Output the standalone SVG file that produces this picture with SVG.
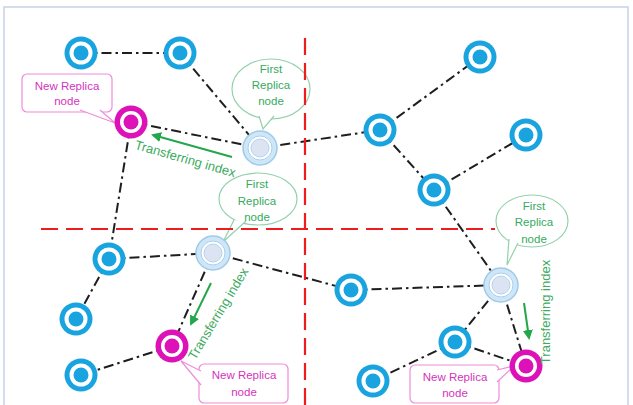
<svg xmlns="http://www.w3.org/2000/svg" width="633" height="405" viewBox="0 0 633 405">
  <style>
    .frame{fill:#fff;stroke:#C9D0E8;stroke-width:1.5}
    .link{stroke:#1E1E1E;stroke-width:2;stroke-dasharray:10 4 2.5 4;fill:none}
    .red{stroke:#EE1C1C;stroke-width:2.2;stroke-dasharray:17 8;fill:none}
    .bo{fill:#19A4E0}
    .mo{fill:#DC12B8}
    .wh{fill:#fff}
    .fo{fill:#CFE6F7;stroke:#9FCBEA;stroke-width:1.5}
    .fm{fill:#fff;stroke:#A8D0EE;stroke-width:1}
    .fi{fill:#DCE4F3;stroke:#B3D4EF;stroke-width:1}
    .gcall{fill:#fff;stroke:#93D1AC;stroke-width:1.2}
    .mcall{fill:#fff;stroke:#F08BD9;stroke-width:1.2}
    .gt{font-family:"Liberation Sans",Arial,sans-serif;font-size:11.5px;fill:#35AA5E;text-anchor:middle}
    .mt{font-family:"Liberation Sans",Arial,sans-serif;font-size:11.5px;fill:#D433BC;text-anchor:middle}
    .tt{font-family:"Liberation Sans",Arial,sans-serif;font-size:13px;fill:#3DAA5E;text-anchor:middle}
    .arr{stroke:#22A84A;stroke-width:2;fill:none}
  </style>
  <defs>
    <marker id="ah" viewBox="0 0 10 10" refX="8" refY="5" markerWidth="5" markerHeight="5" orient="auto">
      <path d="M0,0 L10,5 L0,10 z" fill="#22A84A"/>
    </marker>
  </defs>

  <rect class="frame" x="4" y="7" width="624" height="405"/>

  <g id="connectors">
    <line class="link" x1="81" y1="53" x2="180" y2="53"/>
    <line class="link" x1="180" y1="53" x2="260" y2="148"/>
    <line class="link" x1="131" y1="122" x2="260" y2="148"/>
    <line class="link" x1="131" y1="122" x2="109" y2="259"/>
    <line class="link" x1="260" y1="148" x2="380" y2="130"/>
    <line class="link" x1="380" y1="130" x2="480" y2="57"/>
    <line class="link" x1="380" y1="130" x2="434" y2="190"/>
    <line class="link" x1="434" y1="190" x2="526" y2="135"/>
    <line class="link" x1="434" y1="190" x2="501" y2="285"/>
    <line class="link" x1="109" y1="259" x2="213" y2="253"/>
    <line class="link" x1="109" y1="259" x2="76" y2="319"/>
    <line class="link" x1="213" y1="253" x2="172" y2="346"/>
    <line class="link" x1="213" y1="253" x2="351" y2="290"/>
    <line class="link" x1="172" y1="346" x2="81" y2="375"/>
    <line class="link" x1="351" y1="290" x2="501" y2="285"/>
    <line class="link" x1="501" y1="285" x2="455" y2="342"/>
    <line class="link" x1="501" y1="285" x2="526" y2="366"/>
    <line class="link" x1="455" y1="342" x2="373" y2="381"/>
    <line class="link" x1="455" y1="342" x2="526" y2="366"/>
  </g>

  <g id="callout-first-1">
    <ellipse class="gcall" cx="271" cy="89" rx="39" ry="30"/>
    <path class="gcall" d="M259,116 L263,129 L274,116"/>
    <text class="gt" x="271" y="73">First</text>
    <text class="gt" x="271" y="89">Replica</text>
    <text class="gt" x="271" y="105">node</text>
  </g>
  <g id="callout-first-2">
    <ellipse class="gcall" cx="258" cy="199" rx="39" ry="26"/>
    <path class="gcall" d="M234,220 L223,242 L246,221"/>
    <text class="gt" x="257" y="188">First</text>
    <text class="gt" x="257" y="205">Replica</text>
    <text class="gt" x="257" y="221">node</text>
  </g>
  <g id="callout-first-3">
    <ellipse class="gcall" cx="532" cy="221" rx="36" ry="26"/>
    <path class="gcall" d="M509,239 L507,265 L518,243"/>
    <text class="gt" x="534" y="210">First</text>
    <text class="gt" x="534" y="226">Replica</text>
    <text class="gt" x="534" y="243">node</text>
  </g>

  <g id="callout-new-1">
    <rect class="mcall" x="22" y="74" width="90" height="38" rx="5"/>
    <path class="mcall" d="M80,110 L115,123 L100,110"/>
    <text class="mt" x="67" y="90">New Replica</text>
    <text class="mt" x="67" y="105">node</text>
  </g>
  <g id="callout-new-2">
    <rect class="mcall" x="199" y="364" width="89" height="39" rx="5"/>
    <path class="mcall" d="M201,371 L181,361 L201,385"/>
    <text class="mt" x="244" y="379">New Replica</text>
    <text class="mt" x="244" y="396">node</text>
  </g>
  <g id="callout-new-3">
    <rect class="mcall" x="410" y="365" width="89" height="38" rx="5"/>
    <path class="mcall" d="M497,370 L514,366 L497,382"/>
    <text class="mt" x="455" y="381">New Replica</text>
    <text class="mt" x="455" y="397">node</text>
  </g>

  <g id="partitions">
    <line class="red" x1="305" y1="38" x2="305" y2="405"/>
    <line class="red" x1="41" y1="229" x2="495" y2="229"/>
  </g>

  <g id="node-A"><circle class="bo" cx="81" cy="53" r="16.5"/><circle class="wh" cx="81" cy="53" r="11.5"/><circle class="bo" cx="81" cy="53" r="7.5"/></g>
  <g id="node-B"><circle class="bo" cx="180" cy="53" r="16.5"/><circle class="wh" cx="180" cy="53" r="11.5"/><circle class="bo" cx="180" cy="53" r="7.5"/></g>
  <g id="node-C"><circle class="mo" cx="131" cy="122" r="16.5"/><circle class="wh" cx="131" cy="122" r="11"/><circle class="mo" cx="131" cy="122" r="7.5"/></g>
  <g id="node-D"><circle class="fo" cx="260" cy="148" r="17"/><circle class="fm" cx="260" cy="148" r="12"/><circle class="fi" cx="260" cy="148" r="9"/></g>
  <g id="node-E"><circle class="bo" cx="480" cy="57" r="16.5"/><circle class="wh" cx="480" cy="57" r="11.5"/><circle class="bo" cx="480" cy="57" r="7.5"/></g>
  <g id="node-F"><circle class="bo" cx="380" cy="130" r="16.5"/><circle class="wh" cx="380" cy="130" r="11.5"/><circle class="bo" cx="380" cy="130" r="7.5"/></g>
  <g id="node-G"><circle class="bo" cx="526" cy="135" r="16.5"/><circle class="wh" cx="526" cy="135" r="11.5"/><circle class="bo" cx="526" cy="135" r="7.5"/></g>
  <g id="node-H"><circle class="bo" cx="434" cy="190" r="16.5"/><circle class="wh" cx="434" cy="190" r="11.5"/><circle class="bo" cx="434" cy="190" r="7.5"/></g>
  <g id="node-I"><circle class="bo" cx="109" cy="259" r="16.5"/><circle class="wh" cx="109" cy="259" r="11.5"/><circle class="bo" cx="109" cy="259" r="7.5"/></g>
  <g id="node-J"><circle class="fo" cx="213" cy="253" r="17"/><circle class="fm" cx="213" cy="253" r="12"/><circle class="fi" cx="213" cy="253" r="9"/></g>
  <g id="node-K"><circle class="bo" cx="76" cy="319" r="16.5"/><circle class="wh" cx="76" cy="319" r="11.5"/><circle class="bo" cx="76" cy="319" r="7.5"/></g>
  <g id="node-L"><circle class="bo" cx="81" cy="375" r="16.5"/><circle class="wh" cx="81" cy="375" r="11.5"/><circle class="bo" cx="81" cy="375" r="7.5"/></g>
  <g id="node-M"><circle class="mo" cx="172" cy="346" r="16.5"/><circle class="wh" cx="172" cy="346" r="11"/><circle class="mo" cx="172" cy="346" r="7.5"/></g>
  <g id="node-N"><circle class="bo" cx="351" cy="290" r="16.5"/><circle class="wh" cx="351" cy="290" r="11.5"/><circle class="bo" cx="351" cy="290" r="7.5"/></g>
  <g id="node-O"><circle class="fo" cx="501" cy="285" r="17"/><circle class="fm" cx="501" cy="285" r="12"/><circle class="fi" cx="501" cy="285" r="9"/></g>
  <g id="node-P"><circle class="bo" cx="455" cy="342" r="16.5"/><circle class="wh" cx="455" cy="342" r="11.5"/><circle class="bo" cx="455" cy="342" r="7.5"/></g>
  <g id="node-Q"><circle class="bo" cx="373" cy="381" r="16.5"/><circle class="wh" cx="373" cy="381" r="11.5"/><circle class="bo" cx="373" cy="381" r="7.5"/></g>
  <g id="node-R"><circle class="mo" cx="526" cy="366" r="16.5"/><circle class="wh" cx="526" cy="366" r="11"/><circle class="mo" cx="526" cy="366" r="7.5"/></g>

  <g id="transfers">
    <line class="arr" x1="232" y1="157" x2="153" y2="135" marker-end="url(#ah)"/>
    <text class="tt" transform="translate(184,163) rotate(16)">Transferring index</text>
    <line class="arr" x1="211" y1="283" x2="191" y2="324" marker-end="url(#ah)"/>
    <text class="tt" transform="translate(222,316) rotate(-59)">Transferring index</text>
    <line class="arr" x1="524" y1="303" x2="529" y2="338" marker-end="url(#ah)"/>
    <text class="tt" transform="translate(550,312) rotate(-90)">Transferring index</text>
  </g>
</svg>
